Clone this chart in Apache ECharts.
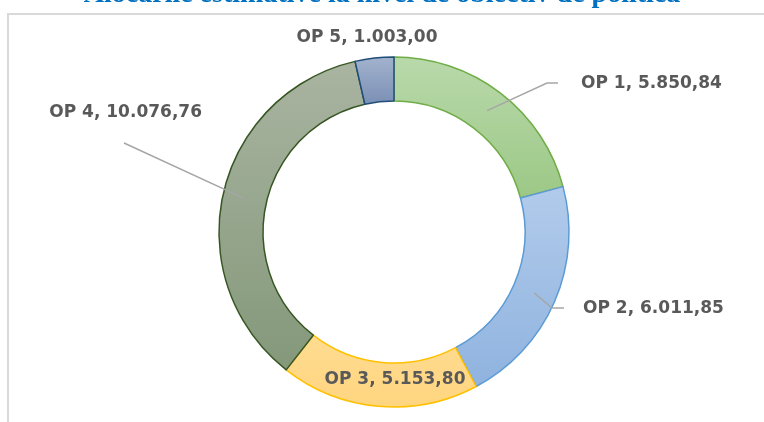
<!DOCTYPE html>
<html>
<head>
<meta charset="utf-8">
<script src="https://cdn.jsdelivr.net/npm/echarts@6/dist/echarts.min.js"></script>
<style>
  html, body { margin: 0; padding: 0; background: #fff; }
  #chart { width: 764px; height: 422px; }
</style>
</head>
<body>
<div id="chart"></div>
<script>
const titleText = "Alocările estimative la nivel de obiectiv de politică";
const categories = ["OP 1", "OP 2", "OP 3", "OP 4", "OP 5"];
const values = [5850.84, 6011.85, 5153.8, 10076.76, 1003.0];
const valueLabels = ["5.850,84", "6.011,85", "5.153,80", "10.076,76", "1.003,00"];

// fill gradients (top, bottom) and outline per slice
const fills = [
  ["#b9d9ab", "#9cc886"],
  ["#b2cbeb", "#8fb3df"],
  ["#ffdc92", "#ffd57f"],
  ["#a9b4a1", "#84987a"],
  ["#a3b3ce", "#7a8fb5"]
];
const strokes = ["#70ad47", "#5b9bd5", "#ffc000", "#375623", "#1f4e79"];

// where Excel put each label, and the bends of its leader line
const center = [394, 232];
const midRing = 153;
const labelSpots = [
  { x: 581, y: 84, align: "left", line: [[547, 83], [558, 83]] },
  { x: 583, y: 309, align: "left", line: [[552, 308], [564, 308]] },
  { x: 395, y: 380, align: "center", line: null },
  { x: 202, y: 113, align: "right", line: [[124, 143]] },
  { x: 367, y: 38, align: "center", line: null }
];

const chart = echarts.init(document.getElementById("chart"), null, { renderer: "canvas" });

const total = values.reduce((a, b) => a + b, 0);
function midPoint(i) {
  let before = 0;
  for (let k = 0; k < i; k++) before += values[k];
  const frac = (before + values[i] / 2) / total;
  const ang = frac * Math.PI * 2;
  return [center[0] + midRing * Math.sin(ang), center[1] - midRing * Math.cos(ang)];
}

const ring = {
  type: "pie",
  center: center,
  radius: [131, 175],
  startAngle: 90,
  clockwise: true,
  avoidLabelOverlap: false
};

const option = {
  animation: false,
  backgroundColor: "#ffffff",
  title: {
    text: titleText,
    left: "center",
    top: -24,
    textStyle: {
      fontFamily: "Liberation Serif",
      fontWeight: "bold",
      fontSize: 28,
      color: "#0070c0"
    }
  },
  graphic: [
    {
      type: "rect",
      silent: true,
      shape: { x: 8, y: 14, width: 800, height: 440 },
      style: { fill: "none", stroke: "#d9d9d9", lineWidth: 2 }
    }
  ],
  series: [
    // the coloured ring
    Object.assign({}, ring, {
      z: 2,
      label: { show: false },
      labelLine: { show: false },
      data: categories.map((c, i) => ({
        name: c,
        value: values[i],
        itemStyle: {
          color: new echarts.graphic.LinearGradient(0, 0, 0, 1, [
            { offset: 0, color: fills[i][0] },
            { offset: 1, color: fills[i][1] }
          ]),
          borderColor: strokes[i],
          borderWidth: 1.5
        }
      }))
    }),
    // same ring, invisible, carrying labels and leaders on top
    Object.assign({}, ring, {
      z: 5,
      silent: true,
      itemStyle: { color: "rgba(0,0,0,0)", borderWidth: 0 },
      data: categories.map((c, i) => ({
        name: c,
        value: values[i],
        label: { position: i === 2 ? "inside" : "outside" },
        labelLine: { show: !!labelSpots[i].line }
      })),
      label: {
        show: true,
        formatter: (p) => p.name + ", " + valueLabels[p.dataIndex],
        fontFamily: "DejaVu Sans",
        fontWeight: "bold",
        fontSize: 17,
        color: "#595959"
      },
      labelLine: {
        showAbove: true,
        lineStyle: { color: "#a6a6a6", width: 1.5 }
      },
      labelLayout: (params) => {
        const s = labelSpots[params.dataIndex];
        const out = { x: s.x, y: s.y, align: s.align, verticalAlign: "middle" };
        if (s.line) {
          out.labelLinePoints = [midPoint(params.dataIndex)].concat(s.line);
        }
        return out;
      }
    })
  ]
};

chart.setOption(option);
</script>
</body>
</html>
